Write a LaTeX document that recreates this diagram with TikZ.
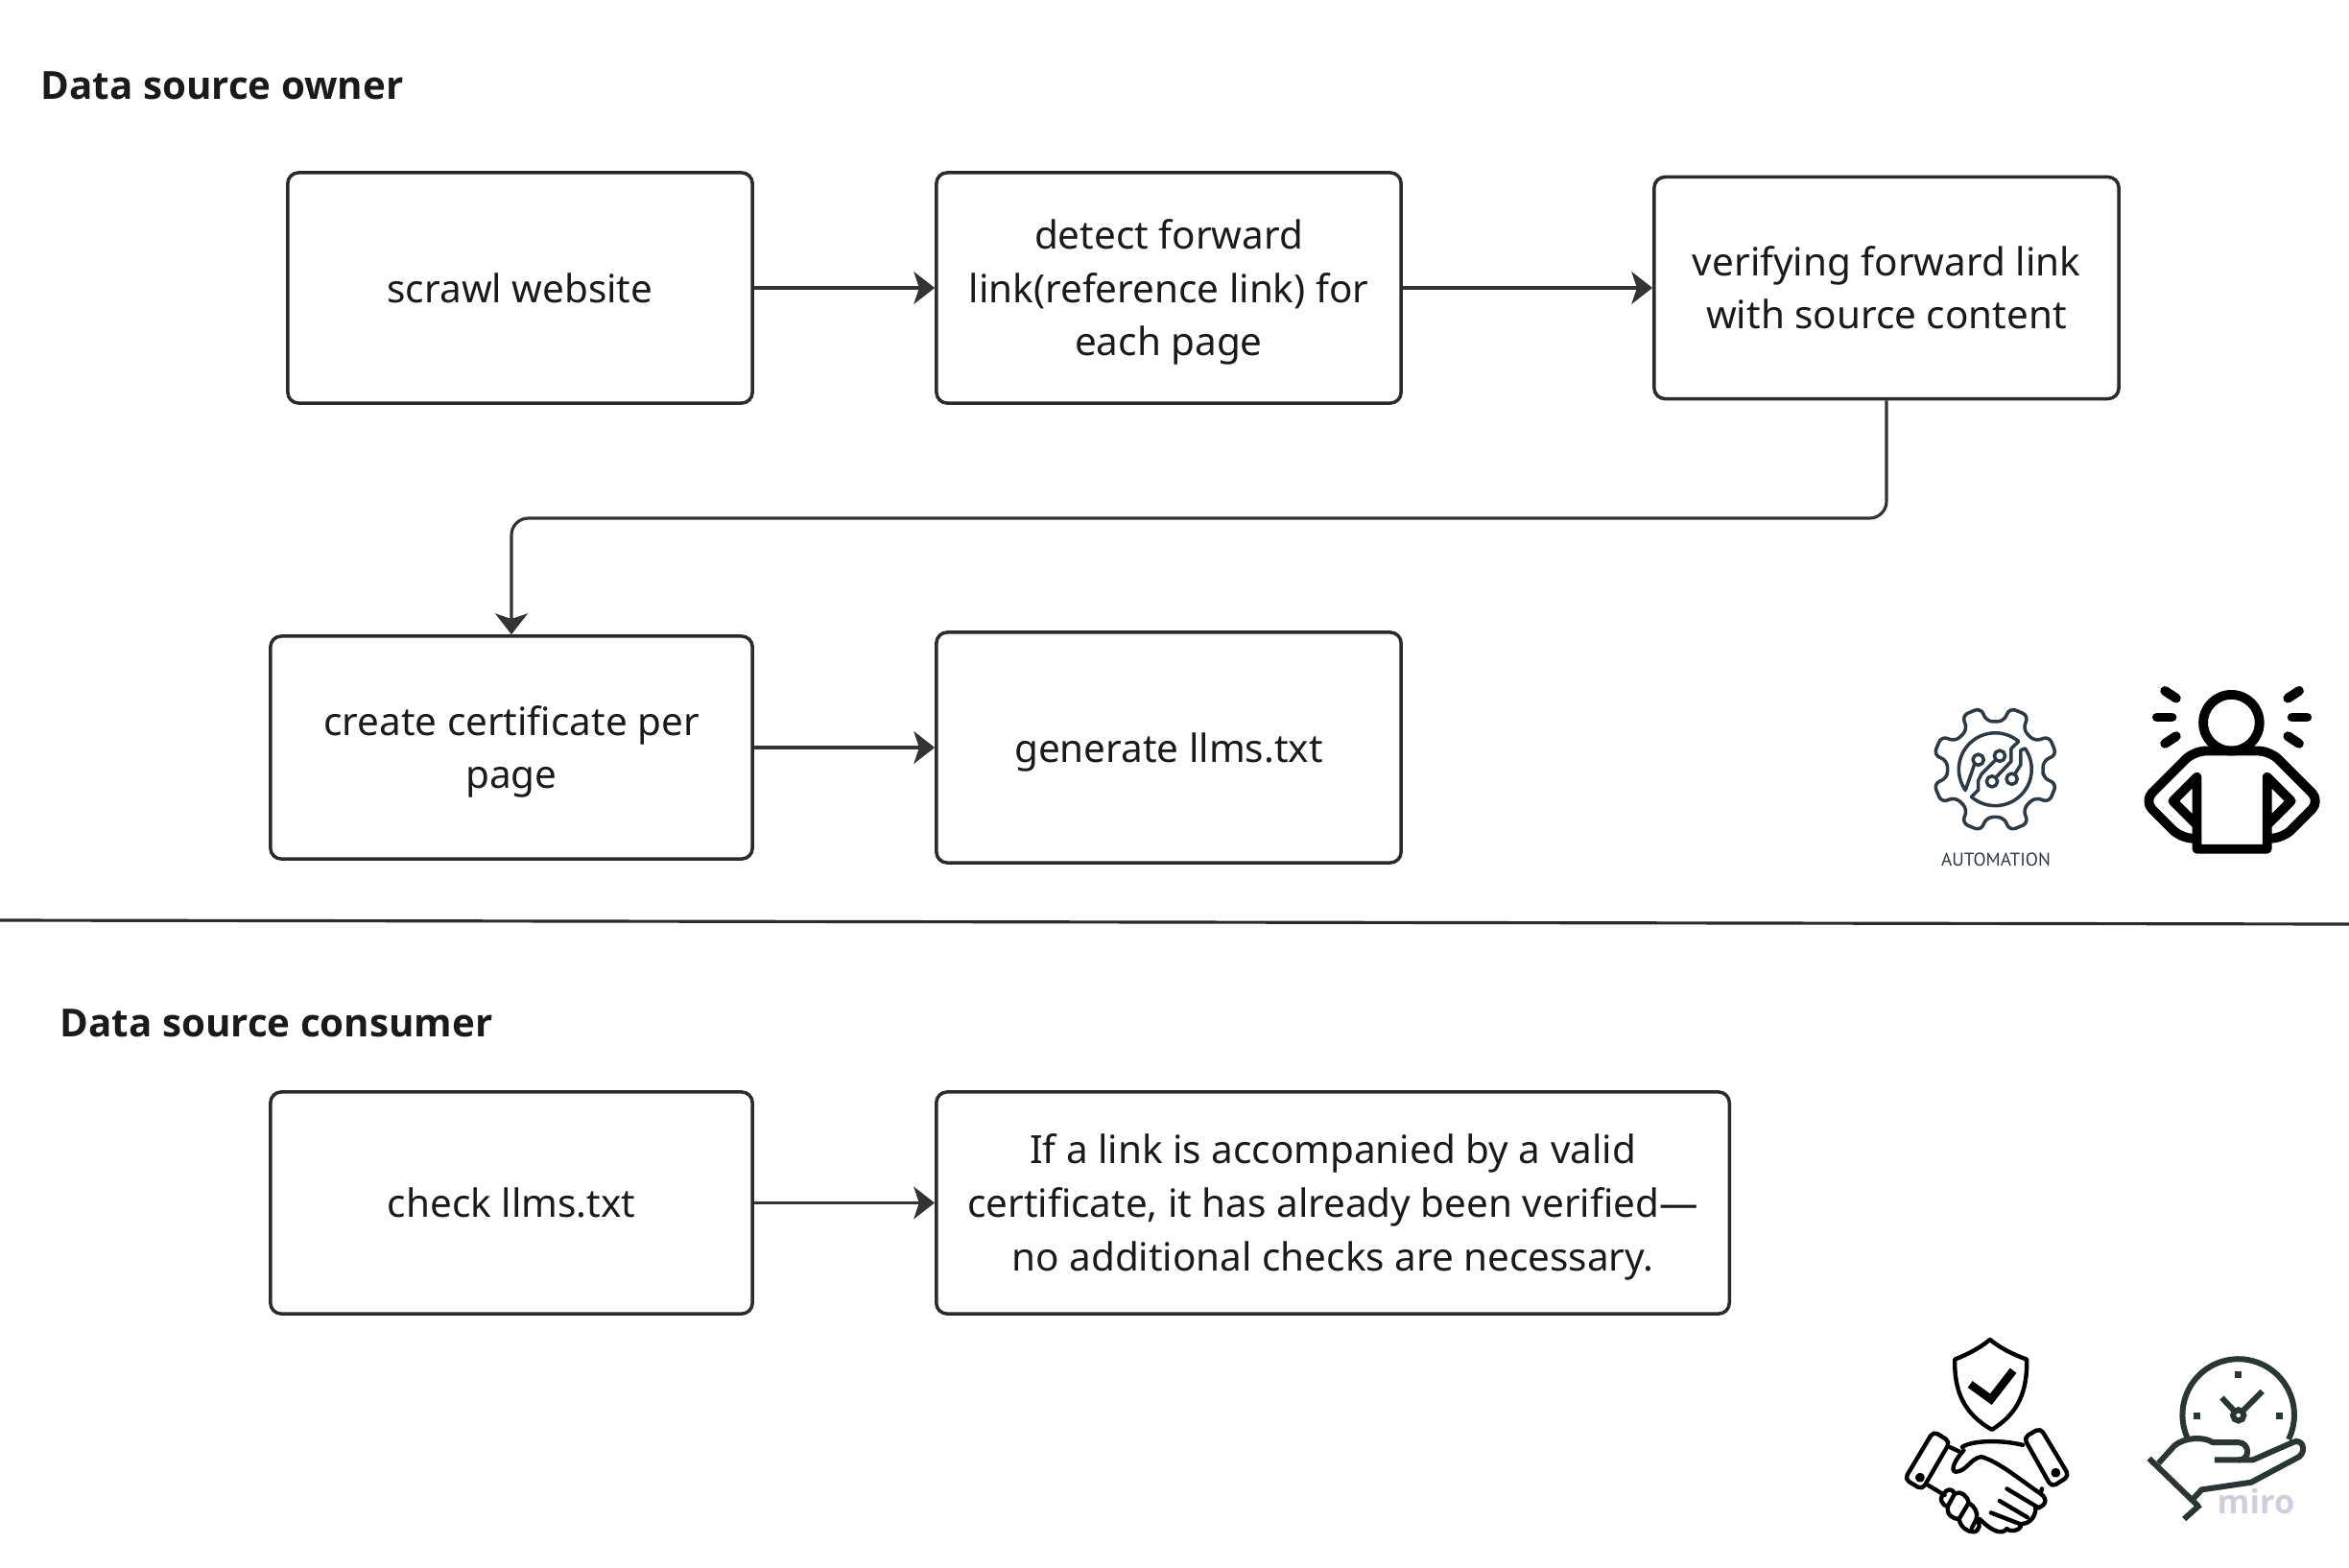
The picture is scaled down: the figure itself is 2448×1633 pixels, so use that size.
\documentclass[tikz,border=0pt]{standalone}
\usepackage{fontspec}
\setmainfont{Noto Sans}
\newfontfamily\headingfont{Open Sans}
\newfontfamily\automationfont{PT Sans}
\usetikzlibrary{positioning,arrows.meta,calc}

\definecolor{boxline}{HTML}{2B2B2B}
\definecolor{flowline}{HTML}{333333}
\definecolor{boxtext}{HTML}{1A1A1C}
\definecolor{gearline}{HTML}{2B3A45}
\definecolor{clockline}{HTML}{2A3535}
\definecolor{watermark}{HTML}{CFCFDC}

\newcommand{\lift}{\rule{0pt}{13.3pt}}

\tikzset{
  stepbox/.style={draw=boxline, line width=1pt, rounded corners=3.2pt, align=center, text=boxtext, inner sep=0pt,
    font=\fontsize{11.5}{15.9}\selectfont, execute at begin node=\lift, execute at end node=\strut},
  flow/.style={draw=flowline, line width=0.9pt, -{Stealth[length=6.2pt,width=9.6pt,inset=1.6pt]}},
  heading/.style={anchor=west, text=boxtext, inner sep=0pt, font=\headingfont\fontsize{11.46}{15.9}\selectfont\bfseries},
  icon/.style={line width=#1, line cap=round, line join=round},
  zoomed/.style={x=0.00333cm, y=-0.00333cm}
}

\begin{document}
\begin{tikzpicture}[x=0.01cm, y=-0.01cm]
  \useasboundingbox (0,0) rectangle (2448,1633);

  % upper half
  \node[heading] (owner) at (42,89) {Data source owner};
  \node[stepbox, minimum width=4.84cm, minimum height=2.40cm] (crawl) at (542,300) {scrawl website};
  \node[stepbox, minimum width=4.84cm, minimum height=2.40cm] (detect) at (1218,300) {\lift detect forward\\link(reference link) for\\each page};
  \node[stepbox, minimum width=4.84cm, minimum height=2.31cm] (verify) at (1966,300) {\lift verifying forward link\\with source content};
  \node[stepbox, minimum width=5.02cm, minimum height=2.32cm] (certify) at (533,779) {\lift create certificate per\\page};
  \node[stepbox, minimum width=4.84cm, minimum height=2.40cm] (generate) at (1218,779) {generate llms.txt};
  \coordinate (bend) at (1300,540);

  \draw[flow] (crawl) -- (detect);
  \draw[flow] (detect) -- (verify);
  \draw[flow, rounded corners=5pt] (verify.south) -- (verify.south |- bend) -- (certify.north |- bend) -- (certify.north);
  \draw[flow] (certify.east |- generate) -- (generate);

  % divider
  \coordinate (ruleleft) at (0,959);
  \coordinate (ruleright) at (2448,963);
  \draw[boxline, line width=0.9pt] (ruleleft) -- (ruleright);

  % lower half
  \node[heading] (consumer) at (62,1066) {Data source consumer};
  \node[stepbox, minimum width=5.02cm, minimum height=2.31cm] (check) at (533,1253.5) {check llms.txt};
  \node[stepbox, minimum width=8.26cm, minimum height=2.31cm] (valid) at (1389,1253.5) {\lift If a link is accompanied by a valid\\certificate, it has already been verified---\\no additional checks are necessary.};

  \draw[flow] (check) -- (valid);

  % gear
  \begin{scope}[shift={(2079.3,801.7)}, x=0.00333cm, y=0.00333cm, gearline, icon=1pt, line join=round]
    \draw[rounded corners=2pt] (-10.5:152)
      \foreach \a in {22.5,67.5,...,337.5} { -- (\a-12:152) -- (\a-9.5:198) -- (\a+9.5:198) -- (\a+12:152) } -- cycle;
    \draw (50:114) arc[start angle=50, end angle=215, radius=114] -- (-66,13) -- (-53,30);
    \draw (229:114) arc[start angle=229, end angle=395, radius=114] -- (80,60) -- (80,15) -- (52,-30);
    \draw (50:114) -- (50,65) -- (50,25) -- (-10,-38);
    \draw (14,42) -- (-43,-15) -- (-53,-35) -- (-53,-65) -- (229:114);
    \draw[fill=white] (-53,30) circle[radius=17];
    \draw[fill=white] (14,42) circle[radius=17];
    \draw[fill=white] (-10,-38) circle[radius=17];
    \draw[fill=white] (52,-30) circle[radius=17];
  \end{scope}
  \node[text=gearline, inner sep=0pt, font=\automationfont\fontsize{5.45}{7}\selectfont] (automation) at (2080,896) {AUTOMATION};

  % person with raised alert marks
  \begin{scope}[shift={(1950,680)}, zoomed, icon=2.8pt]
    \draw (1128,220) circle[radius=88];
    \draw[rounded corners=3.5pt] (1020,582) -- (971,582) -- (854,465) -- (1011,308) -- (1249,308) -- (1406,465) -- (1289,582) -- (1240,582);
    \draw (1020,540) -- (945,465) -- (1020,390) -- (1020,615) -- (1240,615) -- (1240,390) -- (1315,465) -- (1240,540);
    \draw (920,120) -- (955,143);
    \draw (895,203) -- (942,203);
    \draw (920,285) -- (955,262);
    \draw (1340,120) -- (1305,143);
    \draw (1318,203) -- (1365,203);
    \draw (1340,285) -- (1305,262);
  \end{scope}

  % shield and handshake
  \begin{scope}[shift={(1950,1370)}, zoomed, icon=1.25pt]
    \draw (372,78) .. controls (340,105) and (300,125) .. (262,140) .. controls (260,240) and (290,310) .. (378,360) .. controls (460,310) and (490,240) .. (487,140) .. controls (445,125) and (405,105) .. (372,78) -- cycle;
    \draw[line width=2.4pt, line cap=butt, line join=miter] (310,218) -- (375,265) -- (445,175);
    \draw[rounded corners=1.5pt] (195,365) -- (247,398) -- (160,548) -- (105,515) -- cycle;
    \draw[rounded corners=1.5pt] (530,355) -- (478,385) -- (565,540) -- (620,505) -- cycle;
    \draw (153,510) circle[radius=8];
    \draw (578,495) circle[radius=8];
    \draw (247,415) -- (275,428);
    \draw (285,415) .. controls (310,395) and (400,390) .. (475,408);
    \draw (290,425) .. controls (265,450) and (245,490) .. (265,492) .. controls (300,490) and (310,450) .. (345,445) .. controls (400,460) and (470,520) .. (530,560);
    \draw (180,535) -- (230,565);
    \draw (535,545) -- (530,560) .. controls (560,580) and (540,605) .. (515,605) .. controls (515,640) and (490,655) .. (470,655) .. controls (470,680) and (430,680) .. (425,670) .. controls (410,690) and (380,680) .. (340,640);
    \draw (235,552) .. controls (205,575) and (225,600) .. (240,600) .. controls (235,630) and (260,640) .. (275,640) .. controls (280,665) and (300,680) .. (320,680) .. controls (340,680) and (345,650) .. (330,640) .. controls (335,620) and (325,600) .. (305,590) .. controls (305,570) and (280,550) .. (262,560) .. controls (255,548) and (245,545) .. (235,552);
    \draw (262,560) -- (240,600);
    \draw (305,590) -- (275,640);
    \draw (330,640) -- (315,668);
    \draw (425,545) -- (525,605);
    \draw (402,583) -- (490,635);
    \draw (375,620) -- (465,655);
  \end{scope}

  % hand holding a clock
  \begin{scope}[shift={(1950,1370)}, zoomed, clockline, icon=1.7pt, line cap=butt, line join=miter]
    \draw (990,385) arc[start angle=156, end angle=386, radius=175];
    \fill (1140,177) rectangle (1160,197);
    \fill (1010,306) rectangle (1030,326);
    \fill (1268,306) rectangle (1288,326);
    \draw (1098,260) -- (1150,315) -- (1225,240);
    \draw[fill=white] (1150,315) circle[radius=17];
    \draw (870,450) -- (1025,600);
    \draw (1030,595) -- (980,640);
    \draw (900,465) -- (950,410) .. controls (980,385) and (1040,380) .. (1070,400) -- (1150,400) .. controls (1185,400) and (1190,455) .. (1150,455) -- (1075,455);
    \draw (1150,455) -- (1195,455) -- (1320,400) .. controls (1350,385) and (1365,425) .. (1340,445) -- (1190,525) -- (1035,548) -- (1005,580);
  \end{scope}
  \node[text=watermark, inner sep=0pt, font=\headingfont\fontsize{9.8}{12}\selectfont\bfseries] (miro) at (2351,1565) {miro};
\end{tikzpicture}
\end{document}
